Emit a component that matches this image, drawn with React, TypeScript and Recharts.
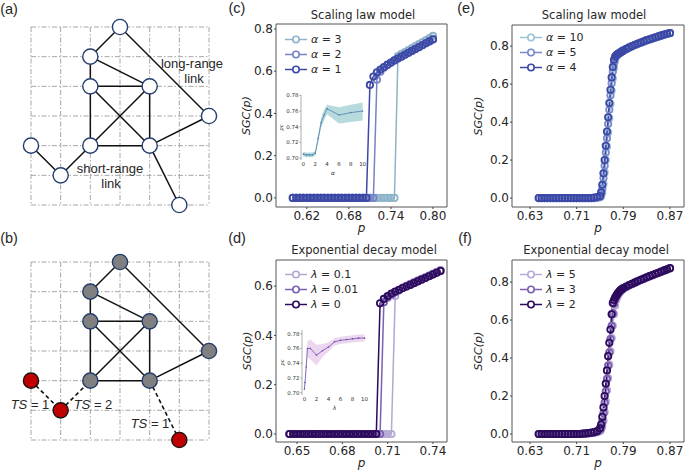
import React from 'react';
import {
  LineChart, Line, XAxis, YAxis, ReferenceArea, ComposedChart, Area,
  ScatterChart, Scatter,
} from 'recharts';

const SANS = '"DejaVu Sans", "Liberation Sans", sans-serif';
const ARIAL = '"Liberation Sans", Arial, sans-serif';
const TXT = '#262626';

// ---------------- panels (a)/(b): lattice network ----------------
const gridTicks = [0, 1, 2, 3, 4, 5, 6];
const nodeCol = [3, 2, 2, 4, 6, 2, 4, 0, 1, 5];
const nodeRow = [0, 1, 2, 2, 3, 4, 4, 4, 5, 6];
const linksA = [[0, 1], [0, 4], [1, 2], [1, 3], [2, 3], [2, 5], [2, 6], [3, 5], [3, 6], [5, 6], [6, 4], [6, 9], [7, 8], [8, 5]];
const linksBSolid = [[0, 1], [0, 4], [1, 2], [1, 3], [2, 3], [2, 5], [2, 6], [3, 5], [3, 6], [5, 6], [6, 4]];
const linksBDashed = [[7, 8], [8, 5], [6, 9]];
const failedB = [7, 8, 9];

// ---------------- panel (c): scaling law, alpha = 3, 2, 1 ----------------
const pC = [
  0.600, 0.605, 0.610, 0.615, 0.620, 0.625, 0.630, 0.635, 0.640, 0.645,
  0.650, 0.655, 0.660, 0.665, 0.670, 0.675, 0.680, 0.685, 0.690, 0.695,
  0.700, 0.705, 0.710, 0.715, 0.720, 0.725, 0.730, 0.735, 0.740, 0.745,
  0.750, 0.755, 0.760, 0.765, 0.770, 0.775, 0.780, 0.785, 0.790, 0.795,
  0.800,
];
const sgcAlpha3 = [
  0, 0, 0, 0, 0, 0, 0, 0, 0, 0,
  0, 0, 0, 0, 0, 0, 0, 0, 0, 0,
  0, 0, 0, 0, 0, 0, 0, 0, 0, 0,
  0.672, 0.682, 0.691, 0.700, 0.709, 0.719, 0.728, 0.738, 0.748, 0.757,
  0.767,
];
const sgcAlpha2 = [
  0, 0, 0, 0, 0, 0, 0, 0, 0, 0,
  0, 0, 0, 0, 0, 0, 0, 0, 0, 0,
  0, 0, 0, 0, 0.560, 0.598, 0.616, 0.629, 0.640, 0.651,
  0.661, 0.670, 0.679, 0.688, 0.698, 0.707, 0.716, 0.725, 0.735, 0.744,
  0.753,
];
const sgcAlpha1 = [
  0, 0, 0, 0, 0, 0, 0, 0, 0, 0,
  0, 0, 0, 0, 0, 0, 0, 0, 0, 0,
  0, 0, 0.535, 0.575, 0.595, 0.608, 0.620, 0.631, 0.641, 0.651,
  0.660, 0.669, 0.678, 0.687, 0.696, 0.705, 0.714, 0.723, 0.732, 0.741,
  0.750,
];

// ---------------- panel (d): exponential decay, lambda = 0.1, 0.01, 0 ----------------
const pD = [
  0.6450, 0.6475, 0.6500, 0.6525, 0.6550, 0.6575, 0.6600, 0.6625, 0.6650, 0.6675,
  0.6700, 0.6725, 0.6750, 0.6775, 0.6800, 0.6825, 0.6850, 0.6875, 0.6900, 0.6925,
  0.6950, 0.6975, 0.7000, 0.7025, 0.7050, 0.7075, 0.7100, 0.7125, 0.7150, 0.7175,
  0.7200, 0.7225, 0.7250, 0.7275, 0.7300, 0.7325, 0.7350, 0.7375, 0.7400, 0.7425,
  0.7450,
];
const sgcLam01 = [
  0, 0, 0, 0, 0, 0, 0, 0, 0, 0,
  0, 0, 0, 0, 0, 0, 0, 0, 0, 0,
  0, 0, 0, 0, 0, 0, 0, 0, 0.560, 0.582,
  0.594, 0.602, 0.609, 0.616, 0.623, 0.630, 0.637, 0.644, 0.651, 0.658,
  0.665,
];
const sgcLam001 = [
  0, 0, 0, 0, 0, 0, 0, 0, 0, 0,
  0, 0, 0, 0, 0, 0, 0, 0, 0, 0,
  0, 0, 0, 0, 0, 0.535, 0.553, 0.565, 0.575, 0.583,
  0.593, 0.600, 0.607, 0.614, 0.621, 0.628, 0.635, 0.642, 0.649, 0.656,
  0.663,
];
const sgcLam0 = [
  0, 0, 0, 0, 0, 0, 0, 0, 0, 0,
  0, 0, 0, 0, 0, 0, 0, 0, 0, 0,
  0, 0, 0, 0, 0.530, 0.548, 0.560, 0.570, 0.578, 0.585,
  0.592, 0.598, 0.605, 0.612, 0.619, 0.626, 0.633, 0.640, 0.647, 0.654,
  0.661,
];

// ---------------- panels (e)/(f): shared p grid ----------------
const pEF = [
  0.645, 0.650, 0.655, 0.660, 0.665, 0.670, 0.675, 0.680, 0.685, 0.690,
  0.695, 0.700, 0.705, 0.710, 0.715, 0.720, 0.725, 0.730, 0.735, 0.740,
  0.745,
  0.750, 0.752, 0.754, 0.756, 0.758, 0.760, 0.762, 0.764, 0.766, 0.768,
  0.770, 0.772, 0.774, 0.776, 0.778, 0.780, 0.782, 0.784, 0.786, 0.788,
  0.790,
  0.795, 0.800, 0.805, 0.810, 0.815, 0.820, 0.825, 0.830, 0.835, 0.840,
  0.845, 0.850, 0.855, 0.860, 0.865, 0.870,
];
const sgcAlpha10 = [
  0, 0, 0, 0, 0, 0, 0, 0, 0, 0,
  0, 0, 0, 0, 0, 0, 0, 0, 0, 0,
  0,
  0.004, 0.010, 0.030, 0.075, 0.135, 0.200, 0.270, 0.345, 0.420, 0.495,
  0.565, 0.630, 0.685, 0.722, 0.742, 0.752, 0.758, 0.763, 0.767, 0.771,
  0.775,
  0.783, 0.791, 0.798, 0.805, 0.811, 0.817, 0.823, 0.829, 0.834, 0.839,
  0.844, 0.849, 0.854, 0.859, 0.864, 0.868,
];
const sgcAlpha5 = [
  0, 0, 0, 0, 0, 0, 0, 0, 0, 0,
  0, 0, 0, 0, 0, 0, 0, 0, 0, 0,
  0.003,
  0.006, 0.018, 0.050, 0.105, 0.170, 0.240, 0.315, 0.390, 0.465, 0.540,
  0.605, 0.665, 0.710, 0.738, 0.750, 0.756, 0.760, 0.764, 0.768, 0.772,
  0.776,
  0.784, 0.792, 0.799, 0.806, 0.812, 0.818, 0.824, 0.830, 0.835, 0.840,
  0.845, 0.850, 0.855, 0.860, 0.864, 0.868,
];
const sgcAlpha4 = [
  0, 0, 0, 0, 0, 0, 0, 0, 0, 0,
  0, 0, 0, 0, 0, 0, 0, 0, 0, 0.002,
  0.005,
  0.010, 0.030, 0.070, 0.130, 0.200, 0.275, 0.350, 0.425, 0.500, 0.570,
  0.635, 0.690, 0.728, 0.745, 0.752, 0.757, 0.761, 0.765, 0.769, 0.773,
  0.777,
  0.785, 0.793, 0.800, 0.807, 0.813, 0.819, 0.825, 0.831, 0.836, 0.841,
  0.846, 0.851, 0.856, 0.861, 0.865, 0.869,
];
const sgcLam5 = [
  0, 0, 0, 0, 0, 0, 0, 0, 0, 0,
  0, 0, 0, 0, 0, 0.001, 0.001, 0.002, 0.004, 0.006,
  0.009,
  0.015, 0.022, 0.040, 0.070, 0.115, 0.170, 0.230, 0.295, 0.365, 0.435,
  0.505, 0.570, 0.630, 0.675, 0.705, 0.723, 0.736, 0.746, 0.753, 0.759,
  0.764,
  0.773, 0.781, 0.789, 0.796, 0.803, 0.810, 0.816, 0.823, 0.829, 0.835,
  0.841, 0.847, 0.853, 0.859, 0.865, 0.871,
];
const sgcLam3 = [
  0, 0, 0, 0, 0, 0, 0, 0, 0, 0,
  0, 0, 0, 0, 0, 0.001, 0.002, 0.004, 0.006, 0.008,
  0.012,
  0.022, 0.035, 0.065, 0.110, 0.165, 0.225, 0.290, 0.360, 0.430, 0.500,
  0.570, 0.635, 0.685, 0.710, 0.724, 0.735, 0.744, 0.751, 0.757, 0.762,
  0.767,
  0.775, 0.783, 0.790, 0.797, 0.804, 0.811, 0.817, 0.824, 0.830, 0.836,
  0.842, 0.848, 0.854, 0.860, 0.866, 0.872,
];
const sgcLam2 = [
  0, 0, 0, 0, 0, 0, 0, 0, 0, 0,
  0, 0, 0, 0, 0, 0.002, 0.003, 0.005, 0.007, 0.010,
  0.015,
  0.030, 0.050, 0.090, 0.140, 0.200, 0.265, 0.335, 0.410, 0.480, 0.550,
  0.630, 0.690, 0.705, 0.718, 0.729, 0.738, 0.746, 0.753, 0.759, 0.764,
  0.768,
  0.776, 0.784, 0.791, 0.798, 0.805, 0.812, 0.818, 0.825, 0.831, 0.837,
  0.843, 0.849, 0.855, 0.861, 0.867, 0.873,
];

// ---------------- insets: critical point p_c ----------------
const insetAlpha = [0, 0.5, 1, 1.5, 2, 2.5, 3, 3.5, 4, 6, 8, 10];
const pcAlpha = [0.705, 0.704, 0.704, 0.704, 0.706, 0.725, 0.745, 0.755, 0.763, 0.755, 0.758, 0.760];
const pcAlphaLo = [0.702, 0.701, 0.701, 0.701, 0.703, 0.720, 0.739, 0.748, 0.756, 0.744, 0.746, 0.748];
const pcAlphaHi = [0.708, 0.707, 0.707, 0.707, 0.709, 0.730, 0.751, 0.762, 0.768, 0.765, 0.768, 0.771];
const insetLambda = [0, 0.1, 0.3, 0.5, 1, 2, 3, 4, 5, 6, 7, 8, 9, 10];
const pcLambda = [0.705, 0.714, 0.735, 0.760, 0.760, 0.751, 0.757, 0.762, 0.769, 0.771, 0.772, 0.773, 0.774, 0.774];
const pcLambdaLo = [0.703, 0.710, 0.727, 0.748, 0.745, 0.737, 0.748, 0.756, 0.764, 0.766, 0.767, 0.768, 0.769, 0.769];
const pcLambdaHi = [0.707, 0.718, 0.743, 0.770, 0.772, 0.765, 0.766, 0.768, 0.774, 0.776, 0.777, 0.778, 0.779, 0.779];
const insetXTicks = [0, 2, 4, 6, 8, 10];
const insetYTicks = [0.70, 0.72, 0.74, 0.76, 0.78];

const yTicksC = [0, 0.2, 0.4, 0.6, 0.8];
const yTicksD = [0, 0.2, 0.4, 0.6];
const xTicksC = [0.62, 0.68, 0.74, 0.80];
const xTicksD = [0.65, 0.68, 0.71, 0.74];
const xTicksEF = [0.63, 0.71, 0.79, 0.87];
const yTicksEF = [0, 0.2, 0.4, 0.6, 0.8];

type Series = { key: string; color: string; label: string; values: number[] };

const seriesC: Series[] = [
  { key: 'a3', color: '#8db3c9', label: '3', values: sgcAlpha3 },
  { key: 'a2', color: '#7783c4', label: '2', values: sgcAlpha2 },
  { key: 'a1', color: '#3c48a6', label: '1', values: sgcAlpha1 },
];
const seriesD: Series[] = [
  { key: 'l01', color: '#b4a7d4', label: '0.1', values: sgcLam01 },
  { key: 'l001', color: '#7b61b2', label: '0.01', values: sgcLam001 },
  { key: 'l0', color: '#2d0b5c', label: '0', values: sgcLam0 },
];
const seriesE: Series[] = [
  { key: 'a10', color: '#9dc2d8', label: '10', values: sgcAlpha10 },
  { key: 'a5', color: '#7a8acb', label: '5', values: sgcAlpha5 },
  { key: 'a4', color: '#3c48a6', label: '4', values: sgcAlpha4 },
];
const seriesF: Series[] = [
  { key: 'l5', color: '#b9aad7', label: '5', values: sgcLam5 },
  { key: 'l3', color: '#7c61b3', label: '3', values: sgcLam3 },
  { key: 'l2', color: '#2d0b5c', label: '2', values: sgcLam2 },
];

// ---------------- components ----------------
const noShape = () => <g />;

function Network(props: {
  top: number; marginTop: number; marginBottom: number;
  solid: number[][]; dashed: number[][]; failed: number[]; filled: boolean;
}) {
  const { top, marginTop, marginBottom, solid, dashed, failed, filled } = props;
  const nodes = nodeCol.map((c, i) => ({ x: c, y: nodeRow[i], failed: failed.includes(i) }));
  const lo = gridTicks[0];
  const hi = gridTicks[gridTicks.length - 1];
  const nodeShape = (p: any) => {
    const isFailed = p.payload && p.payload.failed;
    const fill = isFailed ? '#c00000' : filled ? '#808080' : '#ffffff';
    const stroke = isFailed ? '#151515' : '#233d6c';
    return <circle cx={p.cx} cy={p.cy} r={7.6} fill={fill} stroke={stroke} strokeWidth={1.4} />;
  };
  const gridLine = { stroke: '#9c9c9c', strokeWidth: 0.9, strokeDasharray: '5 2 1.5 2' };
  return (
    <div style={{ position: 'absolute', left: 0, top }}>
      <ScatterChart width={230} height={230} margin={{ top: marginTop, right: 21, bottom: marginBottom, left: 31 }}>
        <XAxis type="number" dataKey="x" domain={[lo, hi]} ticks={gridTicks} height={0} tick={false} axisLine={false} tickLine={false} />
        <YAxis type="number" dataKey="y" domain={[lo, hi]} ticks={gridTicks} reversed width={0} tick={false} axisLine={false} tickLine={false} />
        {gridTicks.map((t) => (
          <Scatter key={'gv' + t} data={[{ x: t, y: lo }, { x: t, y: hi }]} fill="none" line={gridLine} shape={noShape} isAnimationActive={false} />
        ))}
        {gridTicks.map((t) => (
          <Scatter key={'gh' + t} data={[{ x: lo, y: t }, { x: hi, y: t }]} fill="none" line={gridLine} shape={noShape} isAnimationActive={false} />
        ))}
        {solid.map(([a, b], k) => (
          <Scatter key={'s' + k} data={[nodes[a], nodes[b]]} fill="none"
            line={{ stroke: '#111111', strokeWidth: 1.5 }} shape={noShape} isAnimationActive={false} />
        ))}
        {dashed.map(([a, b], k) => (
          <Scatter key={'d' + k} data={[nodes[a], nodes[b]]} fill="none"
            line={{ stroke: '#111111', strokeWidth: 1.6, strokeDasharray: '4 3' }} shape={noShape} isAnimationActive={false} />
        ))}
        <Scatter data={nodes} shape={nodeShape} isAnimationActive={false} />
      </ScatterChart>
    </div>
  );
}

function MainPanel(props: {
  left: number; top: number; p: number[]; series: Series[];
  xDomain: [number, number]; xTicks: number[]; yDomain: [number, number]; yTicks: number[];
  yAxisWidth: number; marginTop: number; marginRight: number; yLabelOffset: number;
}) {
  const { left, top, p, series, xDomain, xTicks, yDomain, yTicks, yAxisWidth, marginTop, marginRight, yLabelOffset } = props;
  const rows = p.map((v, i) => {
    const r: Record<string, number> = { p: v };
    series.forEach((s) => { r[s.key] = s.values[i]; });
    return r;
  });
  const tickStyle = { fontSize: 12, fill: TXT, fontFamily: SANS };
  return (
    <div style={{ position: 'absolute', left, top }}>
      <LineChart width={230} height={235} data={rows} style={{ overflow: 'visible' }}
        margin={{ top: marginTop, right: marginRight, left: 0, bottom: 0 }}>
        <XAxis dataKey="p" type="number" domain={xDomain} ticks={xTicks} allowDataOverflow interval={0}
          tickFormatter={(v: number) => v.toFixed(2)} height={28} tick={tickStyle} tickSize={2} tickMargin={2}
          axisLine={false} tickLine={{ stroke: '#444' }}
          label={{ value: 'p', position: 'insideBottom', offset: 3.5, style: { fontStyle: 'italic', fontSize: 12, fill: TXT, fontFamily: SANS } }} />
        <YAxis type="number" domain={yDomain} ticks={yTicks} allowDataOverflow interval={0}
          tickFormatter={(v: number) => v.toFixed(1)} width={yAxisWidth} tick={tickStyle} tickSize={2} tickMargin={1}
          axisLine={false} tickLine={{ stroke: '#444' }}
          label={{ value: 'SGC(p)', angle: -90, position: 'insideLeft', offset: yLabelOffset, style: { textAnchor: 'middle', fontStyle: 'italic', fontSize: 11, fill: TXT, fontFamily: SANS } }} />
        <ReferenceArea x1={xDomain[0]} x2={xDomain[1]} y1={yDomain[0]} y2={yDomain[1]} fill="none" stroke="#555" strokeWidth={1} />
        {series.map((s) => (
          <Line key={s.key} dataKey={s.key} type="linear" stroke={s.color} strokeWidth={1.5}
            dot={{ r: 3.2, fill: 'none', stroke: s.color, strokeWidth: 1.8 }} activeDot={false} isAnimationActive={false} />
        ))}
      </LineChart>
    </div>
  );
}

function Inset(props: {
  left: number; top: number; xs: number[]; mean: number[]; lo: number[]; hi: number[];
  yDomain: [number, number]; lineColor: string; bandColor: string; sym: string; plotWidth: number;
}) {
  const { left, top, xs, mean, lo, hi, yDomain, lineColor, bandColor, sym, plotWidth } = props;
  const rows = xs.map((x, i) => ({ x, mean: mean[i], band: [lo[i], hi[i]] }));
  const tick = { fontSize: 5.5, fill: '#333', fontFamily: SANS };
  return (
    <div style={{ position: 'absolute', left, top }}>
      <ComposedChart width={23 + plotWidth + 6} height={85} data={rows} margin={{ top: 5, right: 6, left: 0, bottom: 0 }}>
        <XAxis dataKey="x" type="number" domain={[-0.4, 10.4]} ticks={insetXTicks} allowDataOverflow interval={0}
          height={15} tick={tick} tickSize={0} tickMargin={2} axisLine={false} tickLine={false}
          label={{ value: sym, position: 'insideBottom', offset: 0, style: { fontStyle: 'italic', fontSize: 6, fill: '#333', fontFamily: SANS } }} />
        <YAxis type="number" domain={yDomain} ticks={insetYTicks} allowDataOverflow interval={0} width={23}
          tick={tick} tickSize={1.5} tickMargin={1} tickFormatter={(v: number) => v.toFixed(2)}
          axisLine={{ stroke: '#9a9a9a', strokeWidth: 0.8 }} tickLine={{ stroke: '#9a9a9a' }}
          label={{ value: 'pc', angle: -90, position: 'insideLeft', offset: 3, style: { textAnchor: 'middle', fontSize: 5, fontStyle: 'italic', fill: '#333', fontFamily: SANS } }} />
        <Area dataKey="band" type="linear" stroke="none" fill={bandColor} fillOpacity={0.75} isAnimationActive={false} />
        <Line dataKey="mean" type="linear" stroke={lineColor} strokeWidth={0.8}
          dot={{ r: 0.8, fill: lineColor, stroke: 'none' }} activeDot={false} isAnimationActive={false} />
      </ComposedChart>
    </div>
  );
}

function LegendBox(props: { left: number; top: number; series: Series[]; sym: string }) {
  const { left, top, series, sym } = props;
  return (
    <div style={{ position: 'absolute', left, top, fontFamily: SANS, fontSize: 11, color: TXT }}>
      {series.map((s) => (
        <div key={s.key} style={{ height: 15, display: 'flex', alignItems: 'center', whiteSpace: 'nowrap' }}>
          <svg width={26} height={15} style={{ display: 'block' }}>
            <line x1={0} y1={7.5} x2={22} y2={7.5} stroke={s.color} strokeWidth={1.5} />
            <circle cx={11} cy={7.5} r={3.2} fill="white" stroke={s.color} strokeWidth={1.6} />
          </svg>
          <span><i>{sym}</i> = {s.label}</span>
        </div>
      ))}
    </div>
  );
}

function Txt(props: { x: number; y: number; size?: number; font?: string; children: React.ReactNode }) {
  const { x, y, size = 13, font = ARIAL, children } = props;
  return (
    <div style={{
      position: 'absolute', left: x, top: y, transform: 'translate(-50%, -50%)',
      fontFamily: font, fontSize: size, color: TXT, whiteSpace: 'nowrap', lineHeight: 1,
    }}>{children}</div>
  );
}

export default function App() {
  return (
    <div style={{ position: 'absolute', left: 0, top: 0, width: 685, height: 470, background: '#fff', overflow: 'hidden' }}>
      {/* (a) */}
      <Network top={0} marginTop={27} marginBottom={25} solid={linksA} dashed={[]} failed={[]} filled={false} />
      <Txt x={192} y={63}>long-range</Txt>
      <Txt x={194} y={78}>link</Txt>
      <Txt x={110} y={168}>short-range</Txt>
      <Txt x={111} y={183}>link</Txt>
      {/* (b) */}
      <Network top={230} marginTop={32} marginBottom={20} solid={linksBSolid} dashed={linksBDashed} failed={failedB} filled={true} />
      <Txt x={30} y={404}><i>TS</i> = 1</Txt>
      <Txt x={93} y={404}><i>TS</i> = 2</Txt>
      <Txt x={150} y={423}><i>TS</i> = 1</Txt>

      {/* (c) */}
      <MainPanel left={225} top={0} p={pC} series={seriesC} xDomain={[0.576, 0.82]} xTicks={xTicksC}
        yDomain={[-0.043, 0.8237]} yTicks={yTicksC} yAxisWidth={51} marginTop={24} marginRight={8} yLabelOffset={21} />
      <Inset left={278} top={90} xs={insetAlpha} mean={pcAlpha} lo={pcAlphaLo} hi={pcAlphaHi}
        yDomain={[0.6975, 0.7805]} lineColor="#4a7fb0" bandColor="#9fcfd2" sym="α" plotWidth={64} />
      <LegendBox left={285} top={32} series={seriesC} sym="α" />

      {/* (d) */}
      <MainPanel left={225} top={235} p={pD} series={seriesD} xDomain={[0.6361, 0.7493]} xTicks={xTicksD}
        yDomain={[-0.0325, 0.706]} yTicks={yTicksD} yAxisWidth={51} marginTop={25} marginRight={8} yLabelOffset={22} />
      <Inset left={279} top={325} xs={insetLambda} mean={pcLambda} lo={pcLambdaLo} hi={pcLambdaHi}
        yDomain={[0.697, 0.785]} lineColor="#6b4db0" bandColor="#e6c9ea" sym="λ" plotWidth={65} />
      <LegendBox left={285} top={266.5} series={seriesD} sym="λ" />

      {/* (e) */}
      <MainPanel left={455} top={0} p={pEF} series={seriesE} xDomain={[0.5991, 0.8941]} xTicks={xTicksEF}
        yDomain={[-0.047, 0.911]} yTicks={yTicksEF} yAxisWidth={57} marginTop={25} marginRight={1} yLabelOffset={23} />
      <LegendBox left={520} top={30} series={seriesE} sym="α" />

      {/* (f) */}
      <MainPanel left={455} top={235} p={pEF} series={seriesF} xDomain={[0.5991, 0.8941]} xTicks={xTicksEF}
        yDomain={[-0.042, 0.916]} yTicks={yTicksEF} yAxisWidth={57} marginTop={25} marginRight={1} yLabelOffset={23} />
      <LegendBox left={520} top={266.5} series={seriesF} sym="λ" />

      {/* titles */}
      <Txt x={363} y={16} size={11.5} font={SANS}>Scaling law model</Txt>
      <Txt x={364} y={251} size={11.5} font={SANS}>Exponential decay model</Txt>
      <Txt x={594} y={16} size={11.5} font={SANS}>Scaling law model</Txt>
      <Txt x={596} y={251} size={11.5} font={SANS}>Exponential decay model</Txt>

      {/* panel labels */}
      <Txt x={9} y={9} size={14.5}>(a)</Txt>
      <Txt x={9} y={238} size={14.5}>(b)</Txt>
      <Txt x={237} y={8} size={14.5}>(c)</Txt>
      <Txt x={237} y={238} size={14.5}>(d)</Txt>
      <Txt x={466} y={8} size={14.5}>(e)</Txt>
      <Txt x={465} y={238} size={14.5}>(f)</Txt>
    </div>
  );
}
